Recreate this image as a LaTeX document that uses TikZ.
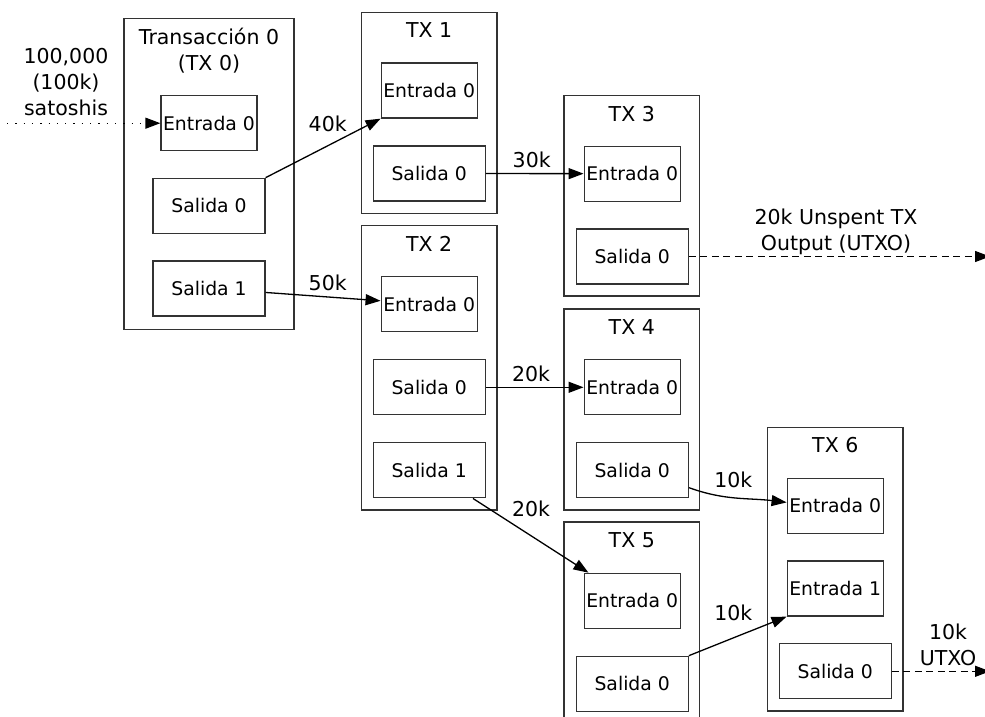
\documentclass[tikz,border=0pt]{standalone}
\usepackage{fontspec}
\setmainfont{DejaVu Sans}
\usetikzlibrary{positioning, arrows.meta}

\begin{document}
\begin{tikzpicture}[x=1pt, y=-1pt, line width=1.3pt, >={Triangle[length=15pt, width=11pt]},
    every node/.style={font=\fontsize{20.5}{26}\selectfont}]
  \tikzstyle{frame}=[rectangle, draw=black!80, minimum width=135.5pt, inner sep=0pt]
  \tikzstyle{slot}=[rectangle, draw=black!80, minimum height=55pt, inner sep=0pt, font=\fontsize{18.8}{22}\selectfont]
  \tikzstyle{entrada}=[slot, minimum width=96pt]
  \tikzstyle{salida}=[slot, minimum width=112pt]
  \tikzstyle{ttl}=[anchor=base, inner sep=0pt, align=center]
  \tikzstyle{lbl}=[anchor=base, inner sep=0pt, align=center]
  \tikzstyle{utxo}=[->, dash pattern=on 7pt off 4.5pt]
  \clip (0,0) rectangle (985,717);

  % TX 0 (base of a two-line node is its last line)
  \node[frame, minimum width=170pt, minimum height=311pt] (tx0) at (209,173.8) {};
  \node[ttl] (t0) at ([yshift=-53pt]tx0.north) {Transacción 0\\(TX 0)};
  \node[entrada] (tx0e0) at (209,123.2) {Entrada 0};
  \node[salida] (tx0s0) at (209,205.8) {Salida 0};
  \node[salida] (tx0s1) at (209,288.5) {Salida 1};

  % TX 1 and TX 2
  \node[frame, minimum height=201pt] (tx1) at (429.2,112.8) {};
  \node[ttl] (t1) at ([yshift=-26pt]tx1.north) {TX 1};
  \node[entrada] (tx1e0) at (429.2,90.5) {Entrada 0};
  \node[salida] (tx1s0) at (429.2,173.5) {Salida 0};

  \node[frame, minimum height=284.3pt] (tx2) at (429.2,367.8) {};
  \node[ttl] (t2) at ([yshift=-26pt]tx2.north) {TX 2};
  \node[entrada] (tx2e0) at (429.2,304.2) {Entrada 0};
  \node[salida] (tx2s0) at (429.2,387.3) {Salida 0};
  \node[salida] (tx2s1) at (429.2,470.3) {Salida 1};

  % TX 3, TX 4 and TX 5
  \node[frame, minimum height=200.3pt] (tx3) at (631.8,195.8) {};
  \node[ttl] (t3) at ([yshift=-26pt]tx3.north) {TX 3};
  \node[entrada] (tx3e0) at (632.2,173.7) {Entrada 0};
  \node[salida] (tx3s0) at (632.2,256.5) {Salida 0};

  \node[frame, minimum height=201pt] (tx4) at (631.8,409.5) {};
  \node[ttl] (t4) at ([yshift=-26pt]tx4.north) {TX 4};
  \node[entrada] (tx4e0) at (632.2,387.3) {Entrada 0};
  \node[salida] (tx4s0) at (632.2,470.3) {Salida 0};

  \node[frame, minimum height=201pt] (tx5) at (631.8,622.5) {};
  \node[ttl] (t5) at ([yshift=-26pt]tx5.north) {TX 5};
  \node[entrada] (tx5e0) at (632.2,600.8) {Entrada 0};
  \node[salida] (tx5s0) at (632.2,683.8) {Salida 0};

  % TX 6
  \node[frame, minimum height=283.7pt] (tx6) at (835.3,569.2) {};
  \node[ttl] (t6) at ([yshift=-26pt]tx6.north) {TX 6};
  \node[entrada] (tx6e0) at (835.2,505.8) {Entrada 0};
  \node[entrada] (tx6e1) at (835.2,588.5) {Entrada 1};
  \node[salida] (tx6s0) at (835.2,671.3) {Salida 0};

  % incoming coins
  \coordinate (sats) at (7,123.2);
  \node[lbl] (satlbl) at (66,115) {100,000\\(100k)\\satoshis};
  \draw[->, dash pattern=on 1.3pt off 7pt] (sats) -- (tx0e0);

  % spends
  \draw[->] (tx0s0.north east) -- (tx1e0.south west);
  \node[lbl] (l40k) at (327.7,131.7) {40k};
  \draw[->] (tx0s1.-4) -- (tx2e0.176);
  \node[lbl] (l50k) at (327.7,290.7) {50k};
  \draw[->] (tx1s0) -- (tx3e0);
  \node[lbl] (l30k) at (531.7,167.7) {30k};
  \draw[->] (tx2s0) -- (tx4e0);
  \node[lbl] (l20ka) at (531,381) {20k};
  \draw[->] (tx2s1) -- (tx5e0);
  \node[lbl] (l20kb) at (531,516.7) {20k};
  \draw[->] (tx4s0.-17) to[out=-20, in=173] (tx6e0.176);
  \node[lbl] (l10ka) at (733.3,487.7) {10k};
  \draw[->] (tx5s0.north east) -- (tx6e1.south west);
  \node[lbl] (l10kb) at (733.3,620.7) {10k};

  % unspent outputs
  \coordinate (utxo1) at (990,256.5);
  \draw[utxo] (tx3s0) -- (utxo1);
  \node[lbl] (lutxo1) at (836,250) {20k Unspent TX\\Output (UTXO)};
  \coordinate (utxo2) at (990,671.3);
  \draw[utxo] (tx6s0) -- (utxo2);
  \node[lbl] (lutxo2) at (948,665) {10k\\UTXO};
\end{tikzpicture}
\end{document}
